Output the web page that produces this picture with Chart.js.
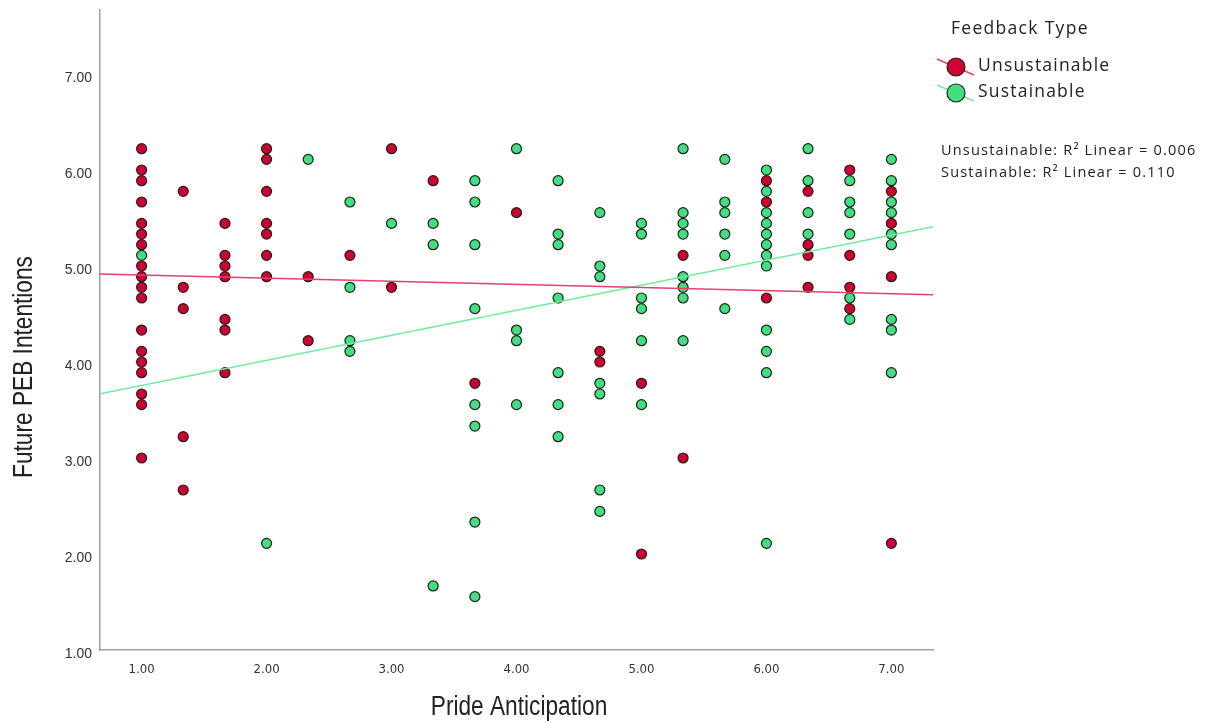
<!DOCTYPE html>
<html>
<head>
<meta charset="utf-8">
<script src="https://cdn.jsdelivr.net/npm/chart.js@4"></script>
<style>
  html, body { margin: 0; padding: 0; background: #fff; }
  #wrap { width: 1206px; height: 723px; }
</style>
</head>
<body>
<div id="wrap"><canvas id="myChart" width="1206" height="723"></canvas></div>
<script>
// Pride Anticipation levels (x) and Future PEB Intentions values (y) per level
const xLevels = [1, 1.333, 1.667, 2, 2.333, 2.667, 3, 3.333, 3.667, 4, 4.333, 4.667, 5, 5.333, 5.667, 6, 6.333, 6.667, 7];

const unsustainableY = [
    [6.222, 6.0, 5.889, 5.667, 5.444, 5.333, 5.222, 5.0, 4.889, 4.778, 4.667, 4.333, 4.111, 4.0, 3.889, 3.667, 3.556, 3.0],
    [5.778, 4.778, 4.556, 3.222, 2.667],
    [5.444, 5.111, 5.0, 4.889, 4.444, 4.333, 3.889],
    [6.222, 6.111, 5.778, 5.444, 5.333, 5.111, 4.889],
    [4.889, 4.222],
    [5.111],
    [6.222, 4.778],
    [5.889],
    [3.778],
    [5.556],
    [],
    [4.111, 4.0],
    [3.778, 2.0],
    [5.111, 3.0],
    [],
    [5.889, 5.667, 4.667],
    [5.778, 5.222, 5.111, 4.778],
    [6.0, 5.111, 4.778, 4.556],
    [5.778, 5.444, 4.889, 2.111]
];

const sustainableY = [
    [5.111],
    [],
    [],
    [2.111],
    [6.111],
    [5.667, 4.778, 4.222, 4.111],
    [5.444],
    [5.444, 5.222, 1.667],
    [5.889, 5.667, 5.222, 4.556, 3.556, 3.333, 2.333, 1.556],
    [6.222, 4.333, 4.222, 3.556],
    [5.889, 5.333, 5.222, 4.667, 3.889, 3.556, 3.222],
    [5.556, 5.0, 4.889, 3.778, 3.667, 2.667, 2.444],
    [5.444, 5.333, 4.667, 4.556, 4.222, 3.556],
    [6.222, 5.556, 5.444, 5.333, 4.889, 4.778, 4.667, 4.222],
    [6.111, 5.667, 5.556, 5.333, 5.111, 4.556],
    [6.0, 5.778, 5.556, 5.444, 5.333, 5.222, 5.111, 5.0, 4.333, 4.111, 3.889, 2.111],
    [6.222, 5.889, 5.556, 5.333],
    [5.889, 5.667, 5.556, 5.333, 4.667, 4.444],
    [6.111, 5.889, 5.667, 5.556, 5.333, 5.222, 4.444, 4.333, 3.889]
];

// fit line ends (at the axis limits)
const fitX = [0.667, 7.333];
const unsustainableFit = [4.917, 4.70];
const sustainableFit = [3.67, 5.41];

const rSquared = ['Unsustainable: R\u00b2 Linear = 0.006', 'Sustainable: R\u00b2 Linear = 0.110'];
const groupNames = ['Unsustainable', 'Sustainable'];
const xTitle = 'Pride Anticipation';
const yTitle = 'Future PEB Intentions';

const RED = '#d2002f';
const GREEN = '#3fe07e';
const RED_LINE = '#e8406a';
const GREEN_LINE = '#70ee9a';
const TITLE_FONT = '27px "Liberation Sans", Arial, sans-serif';

function toPoints(levels, values) {
    const pts = [];
    levels.forEach((x, i) => values[i].forEach(y => pts.push({ x: x, y: y })));
    return pts;
}
function toLine(xs, ys) {
    return xs.map((x, i) => ({ x: x, y: ys[i] }));
}

// legend, R² notes and the (narrow) axis titles drawn by hand like the SPSS output
const overlay = {
    id: 'overlay',
    afterDraw(chart) {
        const ctx = chart.ctx;
        ctx.save();
        ctx.fillStyle = '#222';
        ctx.textBaseline = 'middle';
        ctx.textAlign = 'left';
        ctx.letterSpacing = '1.3px';
        ctx.font = '17.5px "Open Sans", "Noto Sans", sans-serif';
        ctx.fillText('Feedback Type', 951, 29);
        ctx.letterSpacing = '1.2px';

        const items = [
            { name: groupNames[0], fill: RED, line: RED_LINE, y: 67 },
            { name: groupNames[1], fill: GREEN, line: GREEN_LINE, y: 93 }
        ];
        items.forEach(it => {
            ctx.strokeStyle = it.line;
            ctx.lineWidth = 1.5;
            ctx.beginPath();
            ctx.moveTo(937, it.y - 8);
            ctx.lineTo(974, it.y + 8);
            ctx.stroke();
            ctx.beginPath();
            ctx.arc(956, it.y, 9, 0, Math.PI * 2);
            ctx.fillStyle = it.fill;
            ctx.fill();
            ctx.strokeStyle = '#222';
            ctx.lineWidth = 1.2;
            ctx.stroke();
            ctx.fillStyle = '#222';
            ctx.fillText(it.name, 978, it.y - 1);
        });

        ctx.font = '14.5px "Open Sans", "Noto Sans", sans-serif';
        ctx.fillText(rSquared[0], 941, 151);
        ctx.fillText(rSquared[1], 941, 173);
        ctx.letterSpacing = '0px';

        // x title
        ctx.textBaseline = 'alphabetic';
        ctx.textAlign = 'center';
        ctx.font = TITLE_FONT;
        ctx.save();
        ctx.translate(519, 715);
        ctx.scale(0.84, 1);
        ctx.fillText(xTitle, 0, 0);
        ctx.restore();

        // y title
        ctx.translate(32, 367);
        ctx.rotate(-Math.PI / 2);
        ctx.scale(0.84, 1);
        ctx.fillText(yTitle, 0, 0);
        ctx.restore();
    }
};

const ctx = document.getElementById('myChart').getContext('2d');

new Chart(ctx, {
    type: 'scatter',
    data: {
        datasets: [
            {
                type: 'line',
                label: 'Unsustainable fit',
                data: toLine(fitX, unsustainableFit),
                borderColor: RED_LINE,
                borderWidth: 1.5,
                pointRadius: 0,
                fill: false,
                order: 0
            },
            {
                type: 'line',
                label: 'Sustainable fit',
                data: toLine(fitX, sustainableFit),
                borderColor: GREEN_LINE,
                borderWidth: 1.5,
                pointRadius: 0,
                fill: false,
                order: 0
            },
            {
                label: groupNames[1],
                data: toPoints(xLevels, sustainableY),
                backgroundColor: GREEN,
                borderColor: '#1e1e1e',
                borderWidth: 1.2,
                pointRadius: 5,
                order: 2
            },
            {
                label: groupNames[0],
                data: toPoints(xLevels, unsustainableY),
                backgroundColor: RED,
                borderColor: '#1e1e1e',
                borderWidth: 1.2,
                pointRadius: 5,
                order: 1
            }
        ]
    },
    options: {
        responsive: false,
        animation: false,
        layout: { padding: { left: 0, right: 273, top: 10, bottom: 0 } },
        plugins: {
            legend: { display: false },
            tooltip: { enabled: false }
        },
        scales: {
            x: {
                type: 'linear',
                min: 0.667,
                max: 7.333,
                grid: { display: false, drawTicks: false },
                border: { color: '#a0a0a0', width: 1.5 },
                ticks: {
                    stepSize: 1,
                    includeBounds: false,
                    padding: 12,
                    color: '#333',
                    font: { family: '"Liberation Sans Narrow", "DejaVu Sans Condensed", sans-serif', size: 13 },
                    callback: v => v.toFixed(2)
                },
                afterFit: scale => {
                    scale.height = 73;
                    scale.paddingLeft = 0;
                    scale.paddingRight = 0;
                }
            },
            y: {
                type: 'linear',
                min: 1,
                max: 7.667,
                grid: { display: false, drawTicks: false },
                border: { color: '#a0a0a0', width: 1.5 },
                ticks: {
                    stepSize: 1,
                    includeBounds: false,
                    padding: 8,
                    labelOffset: 4,
                    color: '#333',
                    font: { family: '"Liberation Sans", Arial, sans-serif', size: 14 },
                    callback: v => v.toFixed(2)
                },
                afterFit: scale => {
                    scale.width = 100;
                    scale.paddingTop = 0;
                    scale.paddingBottom = 0;
                }
            }
        }
    },
    plugins: [overlay]
});
</script>
</body>
</html>
